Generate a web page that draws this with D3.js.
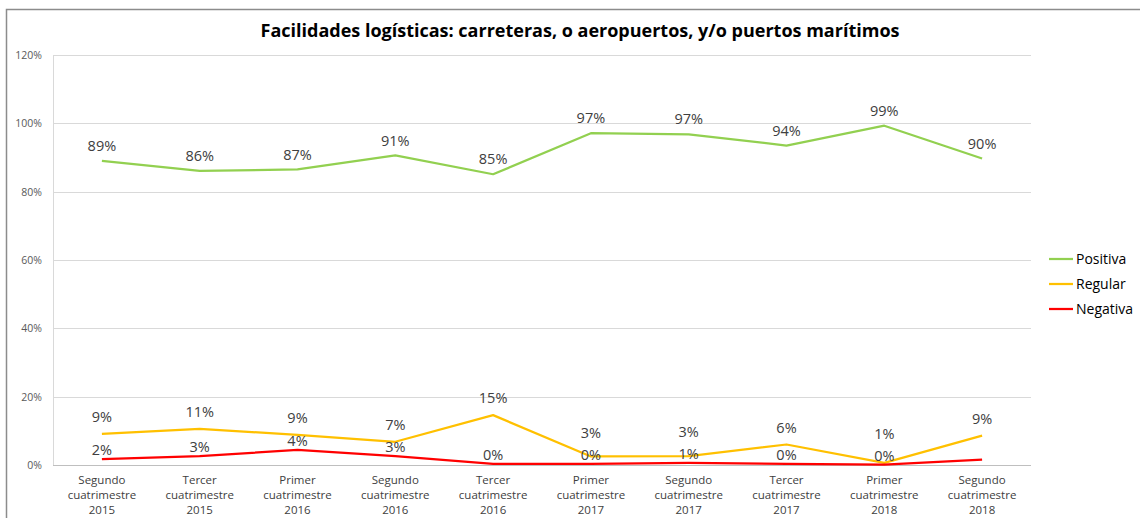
<!DOCTYPE html>
<html>
<head>
<meta charset="utf-8">
<script src="https://cdn.jsdelivr.net/npm/d3@7"></script>
<style>
    body { margin: 0; background: #fff; }
    text { font-family: "Open Sans", "Noto Sans", sans-serif; }
</style>
</head>
<body>
<div id="chart"></div>
<script>
// Chart data
const categories = [
    ["Segundo", "cuatrimestre", "2015"],
    ["Tercer", "cuatrimestre", "2015"],
    ["Primer", "cuatrimestre", "2016"],
    ["Segundo", "cuatrimestre", "2016"],
    ["Tercer", "cuatrimestre", "2016"],
    ["Primer", "cuatrimestre", "2017"],
    ["Segundo", "cuatrimestre", "2017"],
    ["Tercer", "cuatrimestre", "2017"],
    ["Primer", "cuatrimestre", "2018"],
    ["Segundo", "cuatrimestre", "2018"]
];
const positiva = [0.890, 0.861, 0.865, 0.906, 0.851, 0.971, 0.968, 0.935, 0.993, 0.897];
const regular  = [0.091, 0.106, 0.088, 0.068, 0.146, 0.025, 0.026, 0.060, 0.006, 0.086];
const negativa = [0.017, 0.026, 0.044, 0.026, 0.003, 0.003, 0.006, 0.003, 0.001, 0.016];
const seriesNames = ["Positiva", "Regular", "Negativa"];
const yTicks = [0, 0.2, 0.4, 0.6, 0.8, 1.0, 1.2];
const hiddenLabels = { Negativa: [9] };

const colors = { Positiva: "#92d050", Regular: "#ffc000", Negativa: "#ff0000" };

const W = 1140, H = 518;
const margin = { left: 53, right: 109, top: 55, bottom: 53 };
const width = W - margin.left - margin.right;
const height = H - margin.top - margin.bottom;

const svg = d3.select("#chart").append("svg")
    .attr("width", W)
    .attr("height", H);

// outer chart border (top and left only visible)
svg.append("path")
    .attr("d", "M6.5," + H + "V9.5H" + W)
    .attr("fill", "none")
    .attr("stroke", "#8c8c8c")
    .attr("stroke-width", 1.5);

svg.append("text")
    .attr("x", 580)
    .attr("y", 37)
    .attr("text-anchor", "middle")
    .attr("font-size", 18)
    .attr("font-weight", "bold")
    .attr("fill", "#000")
    .text("Facilidades logísticas: carreteras, o aeropuertos, y/o puertos marítimos");

const g = svg.append("g")
    .attr("transform", "translate(" + margin.left + "," + margin.top + ")");

const x = d3.scaleBand()
    .domain(d3.range(categories.length))
    .range([0, width]);

const y = d3.scaleLinear()
    .domain([0, 1.2])
    .range([height, 0]);

const cx = i => x(i) + x.bandwidth() / 2;

// gridlines
g.append("g")
    .selectAll("line")
    .data(yTicks)
    .join("line")
    .attr("x1", 0)
    .attr("x2", width)
    .attr("y1", d => Math.round(y(d)) + 0.5)
    .attr("y2", d => Math.round(y(d)) + 0.5)
    .attr("stroke", d => d === 0 ? "#bfbfbf" : "#d9d9d9");

g.append("line")
    .attr("x1", 0.5).attr("x2", 0.5)
    .attr("y1", 0).attr("y2", height)
    .attr("stroke", "#d9d9d9");

// y axis
const yAxis = d3.axisLeft(y)
    .tickValues(yTicks)
    .tickFormat(d3.format(".0%"))
    .tickSize(0)
    .tickPadding(11);

g.append("g")
    .attr("class", "y-axis")
    .call(yAxis)
    .call(a => a.select(".domain").remove())
    .selectAll("text")
    .attr("font-size", 10.5)
    .attr("fill", "#595959")
    .style("font-family", "'Open Sans', sans-serif");

// x axis labels (three lines)
const xLab = g.append("g")
    .selectAll("text")
    .data(categories)
    .join("text")
    .attr("x", (d, i) => cx(i))
    .attr("y", height + 19)
    .attr("text-anchor", "middle")
    .attr("font-size", 11.5)
    .attr("fill", "#404040");

xLab.selectAll("tspan")
    .data(d => d)
    .join("tspan")
    .attr("x", function () { return this.parentNode.getAttribute("x"); })
    .attr("dy", (d, i) => i === 0 ? 0 : 15)
    .text(d => d);

// series lines
const seriesData = {
    Positiva: positiva,
    Regular: regular,
    Negativa: negativa
};

const line = d3.line()
    .x((d, i) => cx(i))
    .y(d => y(d));

seriesNames.forEach(name => {
    g.append("path")
        .datum(seriesData[name])
        .attr("fill", "none")
        .attr("stroke", colors[name])
        .attr("stroke-width", 2.25)
        .attr("stroke-linejoin", "round")
        .attr("d", line);
});

// data label positions: above the point, Regular kept clear of Negativa
const labelY = {
    Positiva: positiva.map(v => y(v) - 15),
    Negativa: negativa.map(v => y(v) - 9),
    Regular: regular.map((v, i) => Math.min(y(v) - 17, y(negativa[i]) - 9 - 22))
};

const fmt = d3.format(".0%");
seriesNames.forEach(name => {
    const hide = hiddenLabels[name] || [];
    g.append("g")
        .selectAll("text")
        .data(seriesData[name].map((v, i) => ({ v, i })))
        .join("text")
        .filter(d => !hide.includes(d.i))
        .attr("x", d => cx(d.i))
        .attr("y", d => labelY[name][d.i])
        .attr("dy", "0.35em")
        .attr("text-anchor", "middle")
        .attr("font-size", 14.5)
        .attr("fill", "#404040")
        .text(d => fmt(d.v));
});

// legend
const legend = svg.append("g")
    .attr("transform", "translate(1049,259)");

const item = legend.selectAll("g")
    .data(seriesNames)
    .join("g")
    .attr("transform", (d, i) => "translate(0," + (i * 25) + ")");

item.append("line")
    .attr("x1", 0).attr("x2", 24)
    .attr("stroke", d => colors[d])
    .attr("stroke-width", 2.25);

item.append("text")
    .attr("x", 27)
    .attr("dy", "0.35em")
    .attr("font-size", 14)
    .attr("fill", "#000")
    .text(d => d);
</script>
</body>
</html>
